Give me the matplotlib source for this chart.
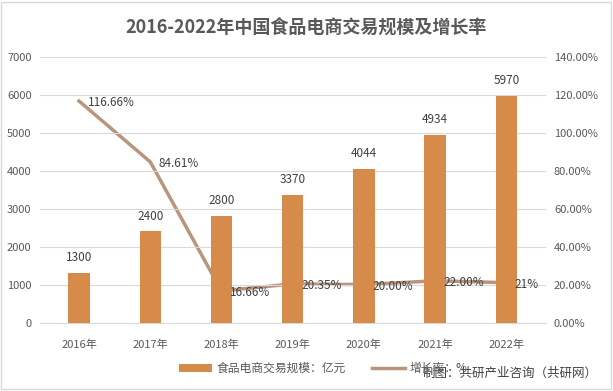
import matplotlib.pyplot as plt
from matplotlib.patches import Rectangle
import numpy as np

plt.rcParams['font.family'] = ['Noto Sans CJK SC', 'DejaVu Sans']

years = ['2016年', '2017年', '2018年', '2019年', '2020年', '2021年', '2022年']
scale = [1300, 2400, 2800, 3370, 4044, 4934, 5970]
growth = [1.1666, 0.8461, 0.1666, 0.2035, 0.2000, 0.2200, 0.21]
growth_labels = ['116.66%', '84.61%', '16.66%', '20.35%', '20.00%', '22.00%', '21%']

bar_color = '#d78b4b'
line_color = '#b9957c'
text_color = '#595959'

fig = plt.figure(figsize=(6.13, 3.91), dpi=100)
fig.patches.append(Rectangle((0.002, 0.004), 0.994, 0.992, transform=fig.transFigure,
                             fill=False, edgecolor='#d9d9d9', linewidth=1))

ax = fig.add_axes([0.065, 0.175, 0.825, 0.68])
ax2 = ax.twinx()
# bars in front of the line
ax.set_zorder(2)
ax2.set_zorder(1)
ax.patch.set_visible(False)

x = np.arange(len(years))
bars = ax.bar(x, scale, width=0.3, color=bar_color, zorder=3, label='食品电商交易规模：亿元')
for xi, v in zip(x, scale):
    ax.text(xi, v + 230, str(v), ha='center', va='bottom', fontsize=8.5, color='#404040')

line, = ax2.plot(x, growth, color=line_color, linewidth=2.5, label='增长率：%')
# labels drawn on the front axes so they sit over the bars
for xi, g, lab in zip(x, growth, growth_labels):
    ax.text(xi + 0.12, g - 0.01, lab, ha='left', va='center', fontsize=8.5,
            color='#404040', transform=ax2.transData, zorder=5)

ax.set_xlim(-0.55, len(years) - 0.45)
ax.set_ylim(0, 7000)
ax.set_yticks(np.arange(0, 7001, 1000))
ax2.set_ylim(0, 1.4)
ax2.set_yticks(np.arange(0, 1.41, 0.2))
ax2.set_yticklabels(['%.2f%%' % (t * 100) for t in np.arange(0, 1.41, 0.2)])

ax.set_xticks(x)
ax.set_xticklabels(years)
ax.yaxis.grid(True, color='#d9d9d9', linewidth=0.8)
ax.set_axisbelow(True)

for a in (ax, ax2):
    for s in a.spines.values():
        s.set_visible(False)
    a.tick_params(length=0, labelsize=8, colors=text_color, pad=6)
ax.tick_params(axis='x', pad=12)
ax.spines['bottom'].set_visible(True)
ax.spines['bottom'].set_color('#d9d9d9')

fig.text(0.5, 0.93, '2016-2022年中国食品电商交易规模及增长率', ha='center', va='center',
         fontsize=13, fontweight='bold', color=text_color)

fig.legend(handles=[bars, line], loc='center left', bbox_to_anchor=(0.275, 0.058), ncol=2,
           frameon=False, fontsize=8.5, labelcolor=text_color, handlelength=2.8,
           handletextpad=0.4, columnspacing=2.2)
fig.text(0.975, 0.045, '制图：共研产业咨询（共研网）', ha='right', va='center',
         fontsize=9, color='#404040',
         bbox=dict(facecolor='white', edgecolor='none', pad=1))

plt.savefig('out.png', dpi=100)
